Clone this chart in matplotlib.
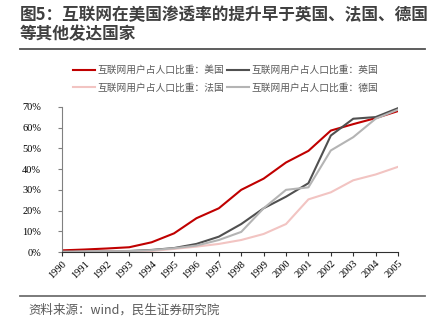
import matplotlib.pyplot as plt
from matplotlib.lines import Line2D

plt.rcParams['font.family'] = ['Noto Sans CJK SC', 'DejaVu Sans']

# Data (percent of population online)
years = list(range(1990, 2006))
us = [0.8, 1.2, 1.7, 2.3, 4.7, 9.0, 16.3, 21.1, 30.0, 35.4, 43.2, 48.8, 58.6, 61.7, 64.6, 68.0]
uk = [0.1, 0.2, 0.3, 0.5, 1.0, 1.9, 3.9, 7.4, 13.5, 21.1, 26.7, 33.2, 56.2, 64.3, 65.1, 69.4]
fr = [0.05, 0.1, 0.2, 0.3, 0.5, 1.5, 2.6, 3.9, 5.8, 8.7, 13.5, 25.4, 28.8, 34.6, 37.4, 41.1]
de = [0.1, 0.2, 0.3, 0.4, 0.9, 1.8, 3.1, 5.8, 9.7, 21.1, 30.0, 31.2, 49.0, 55.4, 64.3, 68.7]
labels = ['互联网用户占人口比重：美国', '互联网用户占人口比重：英国',
          '互联网用户占人口比重：法国', '互联网用户占人口比重：德国']
colors = ['#C00000', '#505050', '#F2C4C2', '#B4B4B4']
yticks = [0, 10, 20, 30, 40, 50, 60, 70]

fig = plt.figure(figsize=(4.4, 3.29), dpi=100)
ax = fig.add_axes([0.141, 0.234, 0.7636, 0.441])

for vals, c in zip([us, uk, fr, de], colors):
    ax.plot(years, vals, color=c, lw=1.5)

ax.set_xlim(1990, 2005)
ax.set_ylim(0, 70)
ax.set_yticks(yticks)
ax.set_yticklabels([f'{v}%' for v in yticks], family='Liberation Serif', fontsize=7.5)
ax.set_xticks(years)
ax.set_xticklabels([str(y) for y in years], family='Liberation Serif', fontsize=7.5,
                   rotation=45, ha='right', rotation_mode='anchor')
for s in ['top', 'right']:
    ax.spines[s].set_visible(False)
ax.spines['left'].set_color('#808080')
ax.spines['bottom'].set_color('#303030')
ax.tick_params(axis='y', length=3, width=0.8, color='#808080', pad=12)
ax.tick_params(axis='x', length=3, width=0.8, color='#303030', pad=2)

# legend filled column-wise, so order US, FR, UK, DE gives rows US/UK and FR/DE
order = [0, 2, 1, 3]
handles = [Line2D([], [], color=colors[i], lw=1.5) for i in order]
fig.legend(handles, [labels[i] for i in order], ncol=2, loc='center',
           bbox_to_anchor=(0.513, 0.76), frameon=False, fontsize=7,
           handlelength=2.2, handletextpad=0.3, columnspacing=0.3,
           labelspacing=0.75, labelcolor='#595959')

# Title and source
fig.text(0.045, 0.955, '图5：互联网在美国渗透率的提升早于英国、法国、德国', fontsize=12,
         fontweight='bold', color='#404040', va='center')
fig.text(0.045, 0.895, '等其他发达国家', fontsize=12, fontweight='bold',
         color='#404040', va='center')
fig.add_artist(Line2D([0.045, 0.965], [0.851, 0.851], color='#505050', lw=1.3))
fig.add_artist(Line2D([0.045, 0.965], [0.1, 0.1], color='#707070', lw=1.3))
fig.text(0.064, 0.058, '资料来源：wind，民生证券研究院', fontsize=9, color='#595959', va='center')

fig.savefig('out.png', dpi=100)
